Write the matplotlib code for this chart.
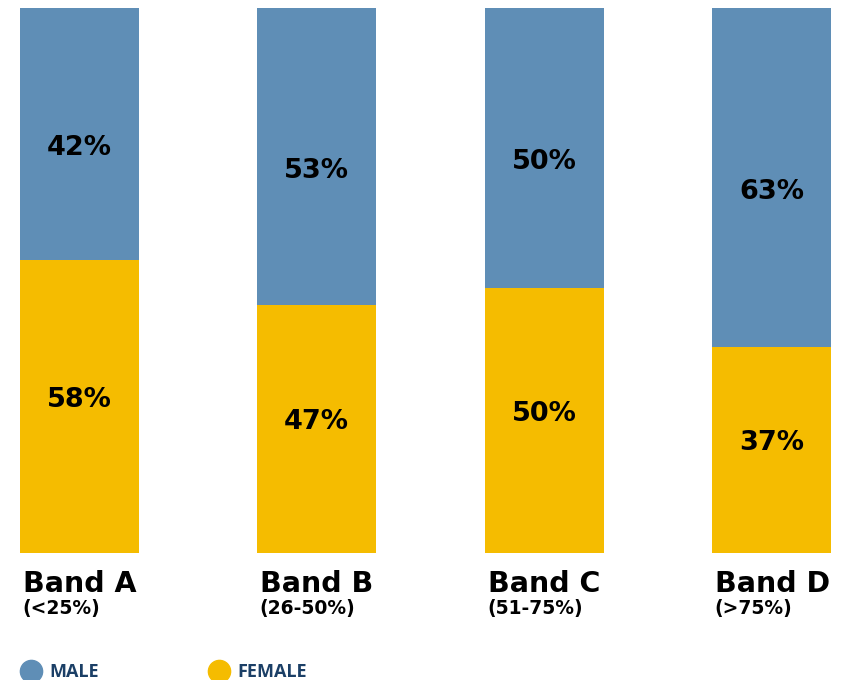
import numpy as np
import matplotlib.pyplot as plt
from matplotlib.lines import Line2D

bands = ['Band A', 'Band B', 'Band C', 'Band D']
ranges = ['(<25%)', '(26-50%)', '(51-75%)', '(>75%)']
male_pct = [42, 53, 50, 63]
female_pct = [58, 47, 50, 37]
# segment heights as drawn in the source picture (they don't follow the labels exactly)
female_bar = [53.8, 45.5, 48.6, 37.8]

blue = '#5F8EB6'
yellow = '#F5BC00'
navy = '#1B3F66'

fig = plt.figure(figsize=(8.45, 6.8), dpi=100)
ax = fig.add_axes([0, 1 - 553 / 680, 1, 545 / 680])

# bars are not quite evenly spaced in the original
x = np.array([0, 1.027, 2.016, 3.0])
width = 0.516
male_bar = [100 - f for f in female_bar]

ax.bar(x, female_bar, width, color=yellow)
ax.bar(x, male_bar, width, bottom=female_bar, color=blue)

for i in range(len(bands)):
    ax.text(x[i], female_bar[i] / 2 + 1.2, f'{female_pct[i]}%', ha='center',
            va='center', fontsize=19.5, fontweight='bold', color='black')
    ax.text(x[i], female_bar[i] + male_bar[i] / 2 - 2.6, f'{male_pct[i]}%',
            ha='center', va='center', fontsize=19.5, fontweight='bold',
            color='black')
    left = x[i] - width / 2 + 0.012
    ax.annotate(bands[i], (left, 0), xycoords=('data', 'axes fraction'),
                xytext=(0, -28), textcoords='offset points', ha='left',
                va='baseline', fontsize=20.5, fontweight='bold')
    ax.annotate(ranges[i], (left, 0), xycoords=('data', 'axes fraction'),
                xytext=(0, -44), textcoords='offset points', ha='left',
                va='baseline', fontsize=13.5, fontweight='bold')

ax.set_xlim(-79.5 / 230.67, (845 - 79.5) / 230.67)
ax.set_ylim(0, 100)
ax.axis('off')

handles = [Line2D([], [], ls='none', marker='o', markersize=16, color=blue),
           Line2D([], [], ls='none', marker='o', markersize=16, color=yellow)]
leg = fig.legend(handles, ['MALE', 'FEMALE'], loc='center left',
                 bbox_to_anchor=(20 / 845, 1 - 672 / 680), ncol=2,
                 frameon=False, borderpad=0, borderaxespad=0,
                 handlelength=1.2, handletextpad=0.4, columnspacing=6.1,
                 prop={'family': 'Open Sans', 'weight': 'bold', 'size': 13})
for t in leg.get_texts():
    t.set_color(navy)

fig.savefig('out.png', dpi=100)
